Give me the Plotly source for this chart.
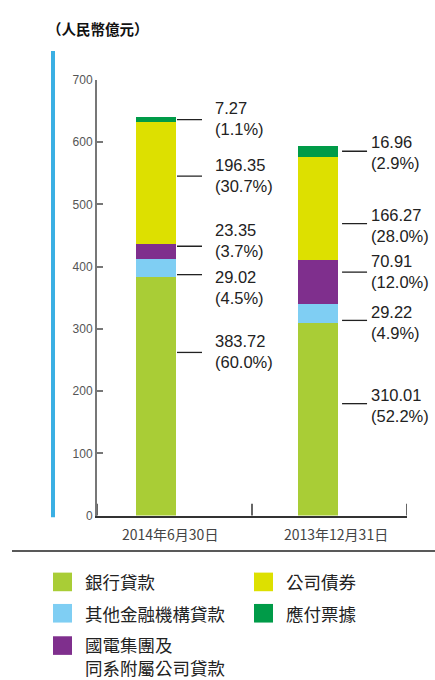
import plotly.graph_objects as go

# ---- data -------------------------------------------------------------
categories = ["2014年6月30日", "2013年12月31日"]
series_names = ["銀行貸款", "其他金融機構貸款", "國電集團及<br>同系附屬公司貸款", "公司債券", "應付票據"]

bank_loans = [383.72, 310.01]
other_fin_loans = [29.02, 29.22]
group_loans = [23.35, 70.91]
corp_bonds = [196.35, 166.27]
notes_payable = [7.27, 16.96]

bank_pct = [60.0, 52.2]
other_fin_pct = [4.5, 4.9]
group_pct = [3.7, 12.0]
bonds_pct = [30.7, 28.0]
notes_pct = [1.1, 2.9]

y_ticks = [0, 100, 200, 300, 400, 500, 600, 700]

# ---- styling / layout -------------------------------------------------
colors = ["#a9cd36", "#7fcef3", "#7f2f8d", "#dde000", "#009b48"]
# where each value label's leader line sits inside its segment (0 = bottom, 1 = top)
label_frac = [[0.683, 0.58], [0.113, 0.12], [0.85, 0.731], [0.556, 0.353], [0.49, 0.52]]
# vertical nudge of each two-line label relative to its leader line (px, + = down)
label_nudge = [[-0.5, 2.2], [13.2, 2.2], [-5.8, -0.2], [-0.4, 1.9], [-1.5, 1.5]]
# leader line start / text start offsets from the bar's right edge (px)
line_start_px = [1, 4]
text_start_px = [37, 31]
line_len_px = 25

W, H = 435, 680
X0, X1 = 97, 407          # plot area, px
Y_TOP, Y_BOT = 74.3, 519.3
x_range = [-0.364, 1.549]
bar_width = 0.247
px_per_unit = (X1 - X0) / (x_range[1] - x_range[0])

NUM_FONT = "Liberation Sans, Arial, Noto Sans CJK TC"
CJK_FONT = "Noto Sans CJK TC, Noto Sans CJK SC, sans-serif"


def px(x):
    return x / W


def py(y):
    return 1 - y / H


series_values = [bank_loans, other_fin_loans, group_loans, corp_bonds, notes_payable]
series_pcts = [bank_pct, other_fin_pct, group_pct, bonds_pct, notes_pct]
xs = list(range(len(categories)))

fig = go.Figure()
for name, vals, col in zip(series_names, series_values, colors):
    fig.add_trace(go.Bar(
        x=xs, y=vals, name=name, width=bar_width,
        marker=dict(color=col, line=dict(width=0)),
        showlegend=False, hoverinfo="skip",
    ))

shapes = []
annotations = []

# leader lines and value labels
for i in xs:
    base = 0.0
    edge = i + bar_width / 2
    for s, (vals, pcts) in enumerate(zip(series_values, series_pcts)):
        v = vals[i]
        y_anchor = base + v * label_frac[s][i]
        base += v
        xa = edge + line_start_px[i] / px_per_unit
        xb = xa + line_len_px / px_per_unit
        shapes.append(dict(type="line", xref="x", yref="y", x0=xa, x1=xb,
                           y0=y_anchor, y1=y_anchor,
                           line=dict(color="#222222", width=1.3)))
        annotations.append(dict(
            xref="x", yref="y", x=edge + text_start_px[i] / px_per_unit, y=y_anchor,
            yshift=-label_nudge[s][i],
            xanchor="left", yanchor="middle", align="left", showarrow=False,
            text=f"{v:.2f}<br>({pcts[i]:.1f}%)",
            font=dict(family=NUM_FONT, size=16.5, color="#222222"),
        ))

# category separators on the x axis (ticks pointing up)
x_mid = (x_range[0] + x_range[1]) / 2
for xv in [x_range[0], x_mid, x_range[1]]:
    shapes.append(dict(type="line", xref="x", yref="y domain", x0=xv, x1=xv,
                       y0=0, y1=12 / (Y_BOT - Y_TOP),
                       line=dict(color="#333333", width=1.5)))

# category labels
cat_label_x = [0.086, 1.111]
for cx, c in zip(cat_label_x, categories):
    annotations.append(dict(xref="x", yref="paper", x=cx, y=py(538),
                            xanchor="center", yanchor="middle", showarrow=False,
                            text=c, font=dict(family=CJK_FONT, size=14, color="#444444")))

# unit title
annotations.append(dict(xref="paper", yref="paper", x=px(45), y=py(22),
                        xanchor="left", yanchor="middle", showarrow=False,
                        text="<b>（人民幣億元）</b>",
                        font=dict(family=CJK_FONT, size=14.5, color="#111111")))

# blue accent bar on the left
shapes.append(dict(type="rect", xref="paper", yref="paper",
                   x0=px(51), x1=px(55), y0=py(521), y1=py(45),
                   fillcolor="#3aafe3", line=dict(width=0)))

# separator above the legend
shapes.append(dict(type="line", xref="paper", yref="paper",
                   x0=px(12), x1=px(435), y0=py(555.5), y1=py(555.5),
                   line=dict(color="#222222", width=1.5)))

# legend (swatch + name; multi-line names stay in one text block)
legend_slots = [(53, 587), (53, 619), (53, 652), (254, 587), (254, 619)]
for name, col, (lx, ly) in zip(series_names, colors, legend_slots):
    shapes.append(dict(type="rect", xref="paper", yref="paper",
                       x0=px(lx), x1=px(lx + 19), y0=py(ly + 9.5), y1=py(ly - 9.5),
                       fillcolor=col, line=dict(width=0)))
    n_lines = name.count("<br>") + 1
    annotations.append(dict(xref="paper", yref="paper", x=px(lx + 30),
                            y=py(ly + 10.5 * (n_lines - 1)),
                            xanchor="left", yanchor="middle", align="left", showarrow=False,
                            text=name, font=dict(family=CJK_FONT, size=17.5, color="#222222")))

fig.update_layout(
    barmode="stack",
    width=W, height=H, autosize=False,
    margin=dict(l=0, r=0, t=0, b=0),
    paper_bgcolor="white", plot_bgcolor="white",
    shapes=shapes, annotations=annotations,
    xaxis=dict(domain=[px(X0), px(X1)], range=x_range, showgrid=False, zeroline=False,
               showline=True, linecolor="#333333", linewidth=2,
               showticklabels=False, ticks=""),
    yaxis=dict(domain=[py(Y_BOT), py(Y_TOP)], range=[0, 700], tickvals=y_ticks,
               showgrid=False, zeroline=False, showline=True, linecolor="#777777", linewidth=2,
               ticks="inside", ticklen=6, tickwidth=2, tickcolor="#777777",
               tickfont=dict(family=NUM_FONT, size=12, color="#555555")),
)

fig.write_html("out.html")
